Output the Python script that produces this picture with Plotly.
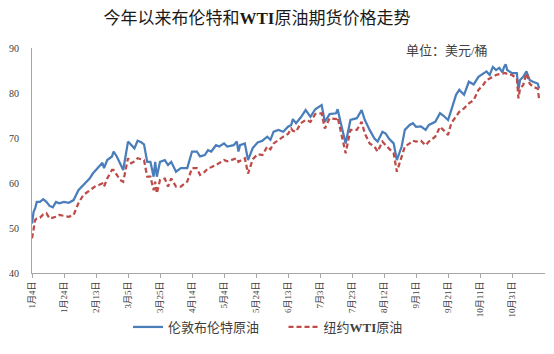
import plotly.graph_objects as go

dates = [
    "2021-01-04", "2021-01-05", "2021-01-06", "2021-01-07", "2021-01-09", "2021-01-11",
    "2021-01-13", "2021-01-15", "2021-01-17", "2021-01-19", "2021-01-21", "2021-01-24",
    "2021-01-27", "2021-01-30", "2021-02-02", "2021-02-05", "2021-02-09", "2021-02-11",
    "2021-02-13", "2021-02-15", "2021-02-17", "2021-02-18", "2021-02-20", "2021-02-23",
    "2021-02-24", "2021-02-26", "2021-02-28", "2021-03-02", "2021-03-05", "2021-03-07",
    "2021-03-09", "2021-03-11", "2021-03-13", "2021-03-15", "2021-03-17", "2021-03-19",
    "2021-03-21", "2021-03-22", "2021-03-23", "2021-03-25", "2021-03-28", "2021-03-30",
    "2021-04-01", "2021-04-04", "2021-04-07", "2021-04-11", "2021-04-14", "2021-04-17",
    "2021-04-19", "2021-04-22", "2021-04-24", "2021-04-26", "2021-04-29", "2021-05-01",
    "2021-05-04", "2021-05-06", "2021-05-10", "2021-05-12", "2021-05-13", "2021-05-14",
    "2021-05-17", "2021-05-19", "2021-05-22", "2021-05-25", "2021-05-28", "2021-05-31",
    "2021-06-02", "2021-06-04", "2021-06-07", "2021-06-10", "2021-06-13", "2021-06-15",
    "2021-06-16", "2021-06-18", "2021-06-21", "2021-06-24", "2021-06-27", "2021-06-30",
    "2021-07-04", "2021-07-06", "2021-07-09", "2021-07-13", "2021-07-14", "2021-07-16",
    "2021-07-19", "2021-07-22", "2021-07-26", "2021-07-29", "2021-07-31", "2021-08-03",
    "2021-08-06", "2021-08-08", "2021-08-11", "2021-08-13", "2021-08-15", "2021-08-18",
    "2021-08-20", "2021-08-23", "2021-08-25", "2021-08-28", "2021-08-30", "2021-09-01",
    "2021-09-04", "2021-09-07", "2021-09-09", "2021-09-13", "2021-09-16", "2021-09-18",
    "2021-09-21", "2021-09-23", "2021-09-26", "2021-09-28", "2021-10-01", "2021-10-04",
    "2021-10-07", "2021-10-10", "2021-10-13", "2021-10-15", "2021-10-17", "2021-10-19",
    "2021-10-21", "2021-10-23", "2021-10-25", "2021-10-26", "2021-10-27", "2021-10-28",
    "2021-10-31", "2021-11-03", "2021-11-04", "2021-11-05", "2021-11-07", "2021-11-09",
    "2021-11-11", "2021-11-13", "2021-11-16", "2021-11-17",
]

brent = [
    51.0, 53.6, 54.4, 55.8, 55.8, 56.4,
    55.8, 54.9, 54.6, 55.8, 55.5, 55.8,
    55.6, 56.2, 58.4, 59.6, 61.0, 62.1,
    62.9, 63.6, 64.5, 63.3, 65.1, 65.9,
    67.0, 65.9, 64.4, 62.9, 69.2, 68.4,
    67.7, 69.4, 69.1, 68.6, 64.7, 64.7,
    61.4, 64.7, 61.4, 64.7, 65.1, 64.0,
    64.7, 62.5, 63.3, 63.3, 67.0, 67.0,
    65.9, 66.2, 67.3, 67.0, 68.4, 68.1,
    68.8, 68.1, 68.4, 69.2, 67.0, 68.4,
    68.8, 65.1, 67.8, 69.0, 69.4, 70.3,
    69.6, 71.4, 71.8, 71.4, 72.5, 72.9,
    74.2, 73.3, 74.6, 76.2, 74.7, 76.4,
    77.3, 73.6, 75.3, 75.5, 76.4, 73.3,
    68.8, 74.0, 74.4, 76.2, 74.0, 71.8,
    69.9, 69.2, 71.4, 71.0, 69.9, 68.8,
    65.1, 68.1, 71.8, 72.9, 73.3, 72.5,
    72.6, 71.8, 72.9, 73.6, 75.5, 75.0,
    74.0, 76.2, 79.6, 80.7, 79.6, 82.5,
    81.9, 83.6, 84.4, 84.8, 84.0, 85.8,
    85.1, 85.6, 84.6, 85.8, 86.4, 85.1,
    84.4, 84.4, 80.8, 82.9, 83.6, 84.8,
    82.9, 82.5, 82.1, 81.0,
]

wti = [
    47.7, 50.3, 51.8, 52.1, 52.3, 53.0,
    53.3, 52.1, 52.3, 52.5, 52.9, 52.7,
    52.5, 52.9, 55.5, 57.3, 58.4, 58.8,
    59.4, 59.6, 59.9, 59.2, 61.0, 62.9,
    62.9, 61.8, 60.7, 60.3, 65.5, 64.4,
    64.8, 65.5, 65.3, 65.1, 61.4, 61.4,
    58.4, 60.3, 57.7, 60.7, 61.0, 59.2,
    61.0, 59.2, 59.2, 60.3, 63.3, 63.3,
    61.8, 62.5, 63.3, 63.5, 64.0, 64.4,
    65.1, 64.8, 65.3, 65.5, 64.7, 64.9,
    65.5, 62.1, 65.3, 66.4, 66.2, 68.1,
    67.5, 68.8, 69.6, 70.3, 70.9, 72.1,
    71.6, 71.4, 73.3, 74.0, 73.6, 75.3,
    75.5, 72.1, 74.4, 74.2, 74.6, 71.4,
    66.6, 71.8, 71.8, 73.6, 71.0, 68.8,
    68.1, 67.0, 69.2, 68.4, 67.7, 66.6,
    62.5, 65.9, 68.1, 68.8, 69.4, 69.2,
    69.4, 68.4, 69.2, 70.3, 72.5, 71.8,
    70.7, 73.3, 74.7, 75.8, 76.6, 77.7,
    78.4, 80.7, 81.8, 82.9, 83.2, 83.6,
    84.0, 84.2, 84.4, 84.4, 84.4, 84.2,
    84.0, 83.2, 78.8, 81.0, 81.8, 84.4,
    82.1, 81.4, 81.0, 78.4,
]

tick_dates = [
    "2021-01-04", "2021-01-24", "2021-02-13", "2021-03-05", "2021-03-25", "2021-04-14",
    "2021-05-04", "2021-05-24", "2021-06-13", "2021-07-03", "2021-07-23", "2021-08-12",
    "2021-09-01", "2021-09-21", "2021-10-11", "2021-10-31",
]
tick_labels = [
    "1月4日", "1月24日", "2月13日", "3月5日", "3月25日", "4月14日",
    "5月4日", "5月24日", "6月13日", "7月3日", "7月23日", "8月12日",
    "9月1日", "9月21日", "10月11日", "10月31日",
]

FONT = "Liberation Serif, Noto Sans CJK SC, sans-serif"
AXIS = "#a6a6a6"
NB = "\u00a0"

fig = go.Figure()
fig.add_trace(go.Scatter(
    x=dates, y=brent, mode="lines", name="伦敦布伦特原油" + NB * 6,
    line=dict(color="#4a7ebb", width=2.25),
))
fig.add_trace(go.Scatter(
    x=dates, y=wti, mode="lines", name="纽约<b>WTI</b>原油",
    line=dict(color="#be4b48", width=2.25, dash="5px,3px"),
))

fig.update_layout(
    width=554, height=354,
    margin=dict(l=32, r=9, t=48, b=81),
    paper_bgcolor="white", plot_bgcolor="white",
    font=dict(family=FONT, color="#404040"),
    title=dict(
        text="今年以来布伦特和<b>WTI</b>原油期货价格走势",
        x=257 / 554, xanchor="center", y=1 - 18 / 354, yanchor="middle",
        font=dict(family=FONT, size=17, color="#1a1a1a"),
    ),
    showlegend=True,
    legend=dict(
        orientation="h", x=0.46, xanchor="center", y=-0.24, yanchor="middle",
        font=dict(family=FONT, size=13, color="#404040"),
        bgcolor="rgba(0,0,0,0)", itemwidth=30,
    ),
    annotations=[dict(
        text="单位：美元/桶", xref="paper", yref="paper",
        x=0.809, y=0.987, xanchor="center", yanchor="middle", showarrow=False,
        font=dict(family=FONT, size=13, color="#404040"),
    )],
)

fig.update_xaxes(
    type="date", range=["2021-01-04", "2021-11-20 14:00"],
    tickmode="array", tickvals=tick_dates, ticktext=tick_labels,
    tickangle=-90, tickfont=dict(size=9, family=FONT, color="#404040"),
    showline=True, linecolor=AXIS, linewidth=1,
    ticks="outside", ticklen=4, tickcolor=AXIS,
    showgrid=False, zeroline=False,
)
fig.update_yaxes(
    range=[40, 90], dtick=10, tick0=40,
    tickfont=dict(size=10, family=FONT, color="#404040"),
    showline=True, linecolor=AXIS, linewidth=1,
    ticks="", showgrid=False, zeroline=False, ticklabelstandoff=10,
)

fig.write_html("out.html")
